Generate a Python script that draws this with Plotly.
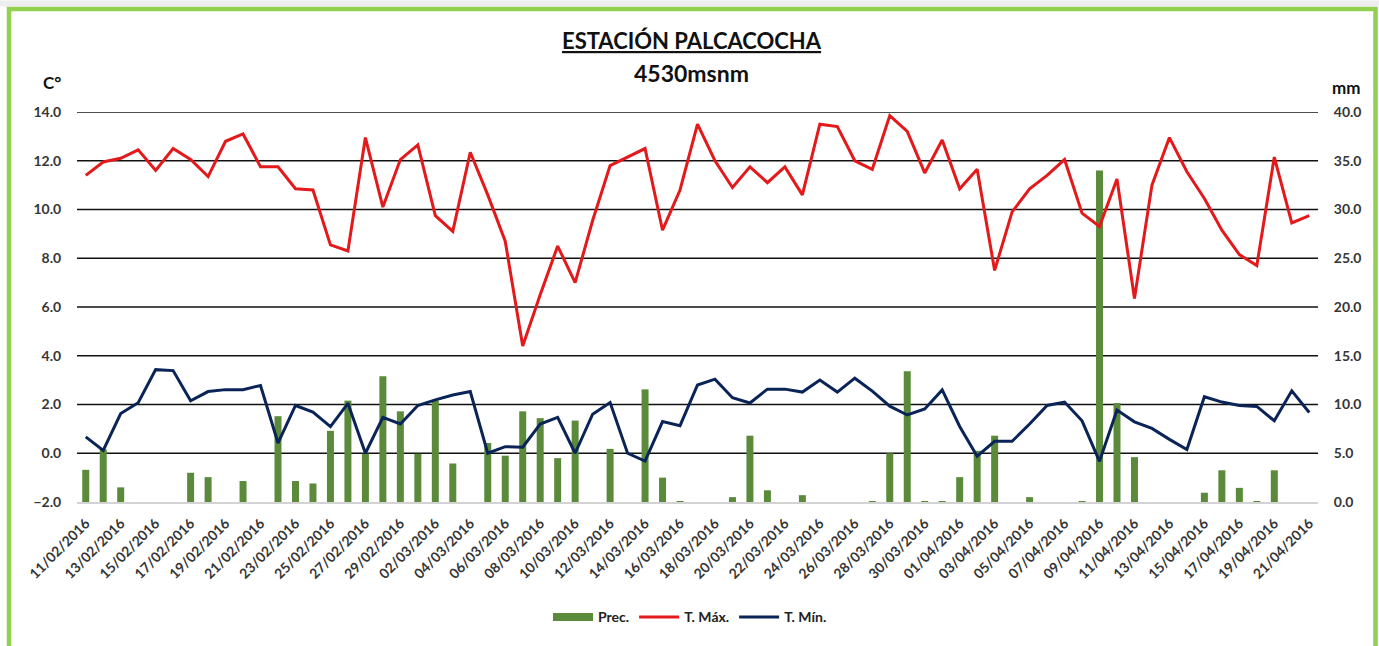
import pandas as pd
import plotly.graph_objects as go

# Daily records, 11/02/2016 - 21/04/2016
dates = [d.strftime("%d/%m/%Y") for d in pd.date_range("2016-02-11", "2016-04-21", freq="D")]

t_max = [11.4, 11.95, 12.1, 12.45, 11.6, 12.5, 12.05, 11.35, 12.8, 13.1,
         11.75, 11.75, 10.85, 10.8, 8.55, 8.3, 12.95, 10.1, 12.05, 12.65,
         9.75, 9.1, 12.35, 10.6, 8.7, 4.4, 6.5, 8.5, 7.0, 9.55,
         11.8, 12.15, 12.5, 9.15, 10.8, 13.5, 12.0, 10.9, 11.75, 11.1,
         11.75, 10.6, 13.5, 13.4, 12.0, 11.65, 13.85, 13.2, 11.5, 12.85,
         10.85, 11.65, 7.5, 9.9, 10.85, 11.4, 12.05, 9.85, 9.3, 11.25,
         6.35, 11.0, 12.95, 11.55, 10.45, 9.15, 8.15, 7.7, 12.15, 9.45,
         9.75]

t_min = [0.67, 0.12, 1.63, 2.07, 3.43, 3.39, 2.15, 2.53, 2.61, 2.61,
         2.78, 0.42, 1.96, 1.69, 1.09, 2.05, 0.0, 1.47, 1.2, 1.96,
         2.19, 2.39, 2.53, 0.0, 0.27, 0.25, 1.2, 1.47, 0.0, 1.6,
         2.08, 0.0, -0.32, 1.3, 1.13, 2.8, 3.04, 2.28, 2.06, 2.63,
         2.63, 2.51, 3.0, 2.51, 3.08, 2.55, 1.93, 1.57, 1.82, 2.6,
         1.1, -0.12, 0.49, 0.49, 1.2, 1.96, 2.1, 1.33, -0.33, 1.77,
         1.29, 1.02, 0.57, 0.15, 2.32, 2.1, 1.96, 1.92, 1.33, 2.56,
         1.67]

prec = [3.3, 5.4, 1.5, 0, 0, 0, 3.0, 2.55, 0, 2.15,
        0, 8.8, 2.15, 1.9, 7.3, 10.4, 4.95, 12.9, 9.3, 4.95,
        10.4, 3.95, 0, 6.05, 4.75, 9.3, 8.6, 4.5, 8.35, 0,
        5.45, 0, 11.55, 2.5, 0.1, 0, 0, 0.5, 6.8, 1.2,
        0, 0.7, 0, 0, 0, 0.1, 5.0, 13.4, 0.1, 0.1,
        2.55, 5.25, 6.8, 0, 0.5, 0, 0, 0.1, 34.0, 10.15,
        4.6, 0, 0, 0, 0.95, 3.25, 1.45, 0.1, 3.25, 0,
        0]

temp_ticks = [-2, 0, 2, 4, 6, 8, 10, 12, 14]
prec_ticks = [0, 5, 10, 15, 20, 25, 30, 35, 40]

FONT = "Lato, 'Open Sans', sans-serif"
GREEN = "#5A8A3A"
RED = "#E3191B"
NAVY = "#0B2458"
TICK_COLOR = "#363636"

W, H = 1379, 646
ML, MR, MT, MB = 77, 61, 112, 142
PW, PH = W - ML - MR, H - MT - MB


def px_x(p):
    return (p - ML) / PW


def px_y(p):
    return (H - MB - p) / PH


tick_font = dict(family=FONT, size=14, color=TICK_COLOR, weight="bold")

fig = go.Figure()

# precipitation bars on the mm axis (drawn underneath)
fig.add_trace(go.Bar(x=dates, y=prec, name="Prec.", marker_color=GREEN,
                     marker_line_width=0, yaxis="y", legendgroup="prec",
                     showlegend=False))
# legend key for the bars, drawn as a wide block
fig.add_trace(go.Scatter(x=[None], y=[None], name="Prec.", mode="lines",
                         line=dict(color=GREEN, width=8), legendgroup="prec"))
# temperatures on the °C axis (overlay, drawn on top)
fig.add_trace(go.Scatter(x=dates, y=t_max, name="T. Máx.", mode="lines",
                         line=dict(color=RED, width=3), yaxis="y2"))
fig.add_trace(go.Scatter(x=dates, y=t_min, name="T. Mín.", mode="lines",
                         line=dict(color=NAVY, width=3), yaxis="y2"))

fig.update_layout(
    width=W, height=H,
    margin=dict(l=ML, r=MR, t=MT, b=MB, pad=0),
    paper_bgcolor="white", plot_bgcolor="white",
    font=dict(family=FONT, size=14, color=TICK_COLOR),
    bargap=0.6,
    showlegend=True,
    legend=dict(orientation="h", x=px_x(690), xanchor="center", y=px_y(620), yanchor="middle",
                font=dict(family=FONT, size=14, color="#222222", weight="bold"),
                itemwidth=40, traceorder="normal", bgcolor="rgba(0,0,0,0)"),
    xaxis=dict(type="category", range=[-0.5, len(dates) - 0.5],
               tickmode="array", tickvals=dates[::2], ticktext=dates[::2],
               tickangle=-45, showgrid=False, zeroline=False,
               showline=True, linecolor="#D3D3D3", linewidth=1.5,
               ticks="outside", ticklen=6, tickcolor="rgba(0,0,0,0)",
               tickfont=tick_font),
    yaxis=dict(side="right", range=[0, 40], tickmode="array", tickvals=prec_ticks,
               tickformat=".1f", showgrid=False, zeroline=False, showline=False,
               ticks="outside", ticklen=12, tickcolor="rgba(0,0,0,0)",
               tickfont=tick_font),
    yaxis2=dict(side="left", overlaying="y", range=[-2, 14], tickmode="array",
                tickvals=temp_ticks, tickformat=".1f", showgrid=False, zeroline=False,
                showline=False, ticks="outside", ticklen=12, tickcolor="rgba(0,0,0,0)",
                tickfont=tick_font),
)

# horizontal gridlines above the baseline
for v in prec_ticks[1:]:
    fig.add_shape(type="line", xref="paper", yref="y", x0=0, x1=1, y0=v, y1=v,
                  line=dict(color="#111111", width=1.3), layer="below")

annotations = [
    dict(text="<u>ESTACIÓN PALCACOCHA</u>", x=px_x(692), y=px_y(40),
         font=dict(family=FONT, size=22, color="#111111", weight="bold")),
    dict(text="4530msnm", x=px_x(691), y=px_y(73),
         font=dict(family=FONT, size=23, color="#111111", weight="bold")),
    dict(text="C°", x=px_x(52), y=px_y(82),
         font=dict(family=FONT, size=17, color="#111111", weight="bold")),
    dict(text="mm", x=px_x(1346), y=px_y(87),
         font=dict(family=FONT, size=17, color="#111111", weight="bold")),
]
for a in annotations:
    a.update(xref="paper", yref="paper", showarrow=False, xanchor="center", yanchor="middle")
fig.update_layout(annotations=annotations)

# light strip along the top edge and the green frame around the chart
fig.add_shape(type="rect", xref="paper", yref="paper",
              x0=px_x(0), x1=px_x(W), y0=px_y(6), y1=px_y(0),
              fillcolor="#EEEEEE", line_width=0, layer="below")
fig.add_shape(type="rect", xref="paper", yref="paper",
              x0=px_x(9), x1=px_x(1375.5), y0=px_y(660), y1=px_y(8.5),
              line=dict(color="#92D050", width=4.5), fillcolor="rgba(0,0,0,0)", layer="above")

fig.write_html("out.html")
